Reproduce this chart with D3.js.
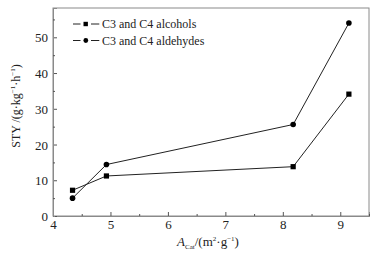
<!DOCTYPE html>
<html>
<head>
<meta charset="utf-8">
<script src="https://cdn.jsdelivr.net/npm/d3@7"></script>
<style>
body { margin: 0; background: #fff; }
svg text { font-family: "Liberation Serif", "Times New Roman", serif; fill: #222; }
</style>
</head>
<body>
<div id="main"></div>
<script>
// values
let xVals = [4.34, 4.93, 8.18, 9.15];
let alcohols = [7.2, 11.2, 13.8, 34.1];
let aldehydes = [5.0, 14.4, 25.6, 54.0];
let seriesNames = ["C3 and C4 alcohols", "C3 and C4 aldehydes"];
let xTicks = [4, 5, 6, 7, 8, 9];
let yTicks = [0, 10, 20, 30, 40, 50];

let margin = {top: 8, right: 16, bottom: 39, left: 53},
	width = 385 - margin.left - margin.right,
	height = 255 - margin.top - margin.bottom;

let svg = d3.select("#main").append("svg")
	.attr("width", 385)
	.attr("height", 255)
	.attr("font-family", "Liberation Serif");

let g = svg.append("g")
	.attr("transform", "translate(" + margin.left + "," + margin.top + ")");

let x = d3.scaleLinear().domain([4, 9.5]).range([0, width]);
let y = d3.scaleLinear().domain([0, 58.2]).range([height, 0]);

// frame
g.append("rect")
	.attr("width", width).attr("height", height)
	.attr("fill", "none").attr("stroke", "#8a8a8a").attr("stroke-width", 1);

// axes, ticks pointing inward
let xAxis = g.append("g").attr("transform", "translate(0," + height + ")")
	.call(d3.axisBottom(x).tickValues(xTicks).tickFormat(d3.format("d")).tickSize(-4).tickPadding(4));
g.append("g").attr("transform", "translate(0," + height + ")")
	.call(d3.axisBottom(x).tickValues([4.5, 5.5, 6.5, 7.5, 8.5, 9.5]).tickSize(-2).tickFormat(""));
let yAxis = g.append("g")
	.call(d3.axisLeft(y).tickValues(yTicks).tickSize(-4).tickPadding(5));
g.append("g")
	.call(d3.axisLeft(y).tickValues([5, 15, 25, 35, 45, 55]).tickSize(-2).tickFormat(""));

g.selectAll(".domain").attr("stroke", "#8a8a8a");
g.selectAll(".tick line").attr("stroke", "#555");
g.selectAll(".tick text").attr("font-size", 13).attr("font-family", "Liberation Serif").attr("fill", "#222");
yAxis.selectAll(".tick text").attr("dy", "0.35em");

let line = d3.line().x((d, i) => x(xVals[i])).y(d => y(d));

g.append("path").datum(alcohols)
	.attr("fill", "none").attr("stroke", "#222").attr("stroke-width", 1).attr("d", line);
g.append("path").datum(aldehydes)
	.attr("fill", "none").attr("stroke", "#222").attr("stroke-width", 1).attr("d", line);

g.selectAll(".sq").data(alcohols).enter().append("rect")
	.attr("x", (d, i) => x(xVals[i]) - 2.6).attr("y", d => y(d) - 2.6)
	.attr("width", 5.2).attr("height", 5.2).attr("fill", "#000");
g.selectAll(".ci").data(aldehydes).enter().append("circle")
	.attr("cx", (d, i) => x(xVals[i])).attr("cy", d => y(d))
	.attr("r", 2.8).attr("fill", "#000");

// legend
let leg = svg.append("g").attr("transform", "translate(72,24)");
seriesNames.forEach((name, i) => {
	let row = leg.append("g").attr("transform", "translate(0," + (i * 16.5) + ")");
	row.append("line").attr("x1", 1).attr("x2", 8.5).attr("stroke", "#222");
	row.append("line").attr("x1", 19).attr("x2", 27.3).attr("stroke", "#222");
	if (i === 0) {
		row.append("rect").attr("x", 11.5).attr("y", -2.2).attr("width", 4.4).attr("height", 4.4).attr("fill", "#000");
	} else {
		row.append("circle").attr("cx", 13.8).attr("cy", 0).attr("r", 2.4).attr("fill", "#000");
	}
	row.append("text").attr("x", 30).attr("dy", "0.35em")
		.attr("font-size", 12).text(name);
});

// axis titles
svg.append("text")
	.attr("transform", "translate(20,106) rotate(-90)")
	.attr("text-anchor", "middle")
	.attr("font-size", 12)
	.html('STY /(g·kg<tspan dy="-5" font-size="7">−1</tspan><tspan dy="5">·h</tspan><tspan dy="-5" font-size="7">−1</tspan><tspan dy="5">)</tspan>');

svg.append("text")
	.attr("x", 208).attr("y", 246)
	.attr("text-anchor", "middle")
	.attr("font-size", 13)
	.html('<tspan font-style="italic">A</tspan><tspan dy="3" font-size="7">Cat</tspan><tspan dy="-3">/(m</tspan><tspan dy="-5" font-size="7">2</tspan><tspan dy="5">·g</tspan><tspan dy="-5" font-size="7">−1</tspan><tspan dy="5">)</tspan>');
</script>
</body>
</html>
